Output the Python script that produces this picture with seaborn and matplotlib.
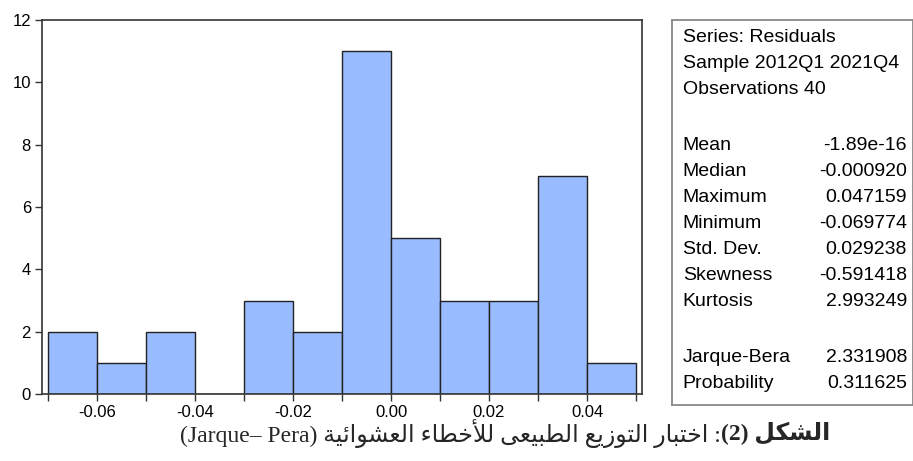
import numpy as np
import matplotlib
matplotlib.use("Agg")
import matplotlib.pyplot as plt
from matplotlib.ticker import MultipleLocator
import seaborn as sns

# histogram of residuals (bin edges and counts)
bin_edges = [-0.07, -0.06, -0.05, -0.04, -0.03, -0.02, -0.01, 0.0, 0.01, 0.02, 0.03, 0.04, 0.05]
counts = [2, 1, 2, 0, 3, 2, 11, 5, 3, 3, 7, 1]

header_lines = ["Series: Residuals", "Sample 2012Q1 2021Q4", "Observations 40"]
stat_names = ["Mean", "Median", "Maximum", "Minimum", "Std. Dev.", "Skewness", "Kurtosis"]
stat_values = ["-1.89e-16", "-0.000920", "0.047159", "-0.069774", "0.029238", "-0.591418", "2.993249"]
test_names = ["Jarque-Bera", "Probability"]
test_values = ["2.331908", "0.311625"]

caption_bold = "الشكل (2)"
caption_rest = ": اختبار التوزيع الطبيعى للأخطاء العشوائية (Jarque– Pera)"

# --- minimal Arabic shaping (matplotlib has no complex text layout) ---
FORMS = {
    'ء': ('\uFE80', None, None, None),
    'أ': ('\uFE83', '\uFE84', None, None),
    'ئ': ('\uFE89', '\uFE8A', '\uFE8B', '\uFE8C'),
    'ا': ('\uFE8D', '\uFE8E', None, None),
    'ب': ('\uFE8F', '\uFE90', '\uFE91', '\uFE92'),
    'ة': ('\uFE93', '\uFE94', None, None),
    'ت': ('\uFE95', '\uFE96', '\uFE97', '\uFE98'),
    'خ': ('\uFEA5', '\uFEA6', '\uFEA7', '\uFEA8'),
    'ر': ('\uFEAD', '\uFEAE', None, None),
    'ز': ('\uFEAF', '\uFEB0', None, None),
    'ش': ('\uFEB5', '\uFEB6', '\uFEB7', '\uFEB8'),
    'ط': ('\uFEC1', '\uFEC2', '\uFEC3', '\uFEC4'),
    'ع': ('\uFEC9', '\uFECA', '\uFECB', '\uFECC'),
    'ك': ('\uFED9', '\uFEDA', '\uFEDB', '\uFEDC'),
    'ل': ('\uFEDD', '\uFEDE', '\uFEDF', '\uFEE0'),
    'و': ('\uFEED', '\uFEEE', None, None),
    'ى': ('\uFEEF', '\uFEF0', None, None),
    'ي': ('\uFEF1', '\uFEF2', '\uFEF3', '\uFEF4'),
}
LAM_ALEF = {'ا': ('\uFEFB', '\uFEFC'), 'أ': ('\uFEF7', '\uFEF8')}


def shape_word(word):
    items = []
    i = 0
    while i < len(word):
        if word[i] == 'ل' and i + 1 < len(word) and word[i + 1] in LAM_ALEF:
            items.append(('LA', word[i + 1]))
            i += 2
        else:
            items.append(('C', word[i]))
            i += 1

    def joins_next(it):
        return it[0] == 'C' and FORMS[it[1]][2] is not None

    def joins_prev(it):
        return it[0] == 'LA' or FORMS[it[1]][1] is not None

    out = []
    for k, it in enumerate(items):
        prev_ok = k > 0 and joins_next(items[k - 1]) and joins_prev(it)
        next_ok = k + 1 < len(items) and joins_next(it) and joins_prev(items[k + 1])
        if it[0] == 'LA':
            out.append(LAM_ALEF[it[1]][1 if prev_ok else 0])
            continue
        iso, fin, ini, med = FORMS[it[1]]
        out.append(med if prev_ok and next_ok else fin if prev_ok else ini if next_ok else iso)
    return ''.join(reversed(out))


def visual(text):
    # right-to-left line: Arabic words reversed, Latin run kept as is
    latin = ""
    if "(J" in text:
        cut = text.index("(J")
        text, latin = text[:cut].strip(), text[cut:]
    parts = []
    for tok in text.split(" "):
        if tok and tok[0] in FORMS:
            parts.append(shape_word(tok))
        else:
            parts.append(tok)
    vis = " ".join(reversed(parts))
    return (latin + " " + vis) if latin else vis


sns.set_theme(style="ticks")
plt.rcParams['font.family'] = ['Liberation Sans', 'DejaVu Sans']

fig = plt.figure(figsize=(9.13, 4.61), dpi=100)
ax = fig.add_axes([42 / 913, 1 - 394 / 461, 600 / 913, 374 / 461])

centers = [(a + b) / 2 for a, b in zip(bin_edges[:-1], bin_edges[1:])]
sns.histplot(x=centers, weights=counts, bins=bin_edges, ax=ax,
             color="#99bbff", alpha=1, edgecolor="#222222", linewidth=1.0)

ax.set_xlim(-0.07122, 0.05122)
ax.set_ylim(0, 12)
ax.xaxis.set_minor_locator(MultipleLocator(0.01))
ax.yaxis.set_major_locator(MultipleLocator(2))
ax.set_xticks([-0.06, -0.04, -0.02, 0.0, 0.02, 0.04])
ax.set_xticklabels(["-0.06", "-0.04", "-0.02", "0.00", "0.02", "0.04"])
ax.set_xlabel("")
ax.set_ylabel("")
ax.tick_params(axis="both", which="both", direction="out", length=5, width=1,
               color="#333333", labelsize=12, labelcolor="black", pad=3)
for s in ax.spines.values():
    s.set_color("#333333")
    s.set_linewidth(1.2)

# statistics box
box = fig.add_axes([672 / 913, 1 - 405 / 461, 241 / 913, 385 / 461])
box.set_xlim(0, 1)
box.set_ylim(0, 1)
box.set_xticks([])
box.set_yticks([])
for s in box.spines.values():
    s.set_color("#888888")
    s.set_linewidth(1.3)

rows = [(t, "") for t in header_lines] + [("", "")] + list(zip(stat_names, stat_values)) \
    + [("", "")] + list(zip(test_names, test_values))
top, step = 0.955, 0.0675
for i, (name, val) in enumerate(rows):
    y = top - i * step - (0.012 if i > 3 else 0) - (0.01 if i > 11 else 0)
    box.text(0.045, y, name, fontsize=14, va="center", ha="left", color="black")
    if val:
        box.text(0.975, y, val, fontsize=14, va="center", ha="right", color="black")

# caption (bold prefix on the right, rest to its left)
cap_fam = ['Liberation Serif', 'DejaVu Sans']
t_bold = fig.text(0, 433 / 461, visual(caption_bold), family=cap_fam, fontweight="bold",
                  fontsize=17, ha="right", va="center")
t_rest = fig.text(0, 433 / 461, visual(caption_rest), family=cap_fam,
                  fontsize=17, ha="right", va="center")
fig.canvas.draw()
r = fig.canvas.get_renderer()
wb = t_bold.get_window_extent(r).width
wr = t_rest.get_window_extent(r).width
gap = 0
right_px = 505 + (wb + wr + gap) / 2
t_bold.set_position((right_px / 913, 1 - 433 / 461))
t_rest.set_position(((right_px - wb - gap) / 913, 1 - 433 / 461))

fig.savefig("out.png", dpi=100)
